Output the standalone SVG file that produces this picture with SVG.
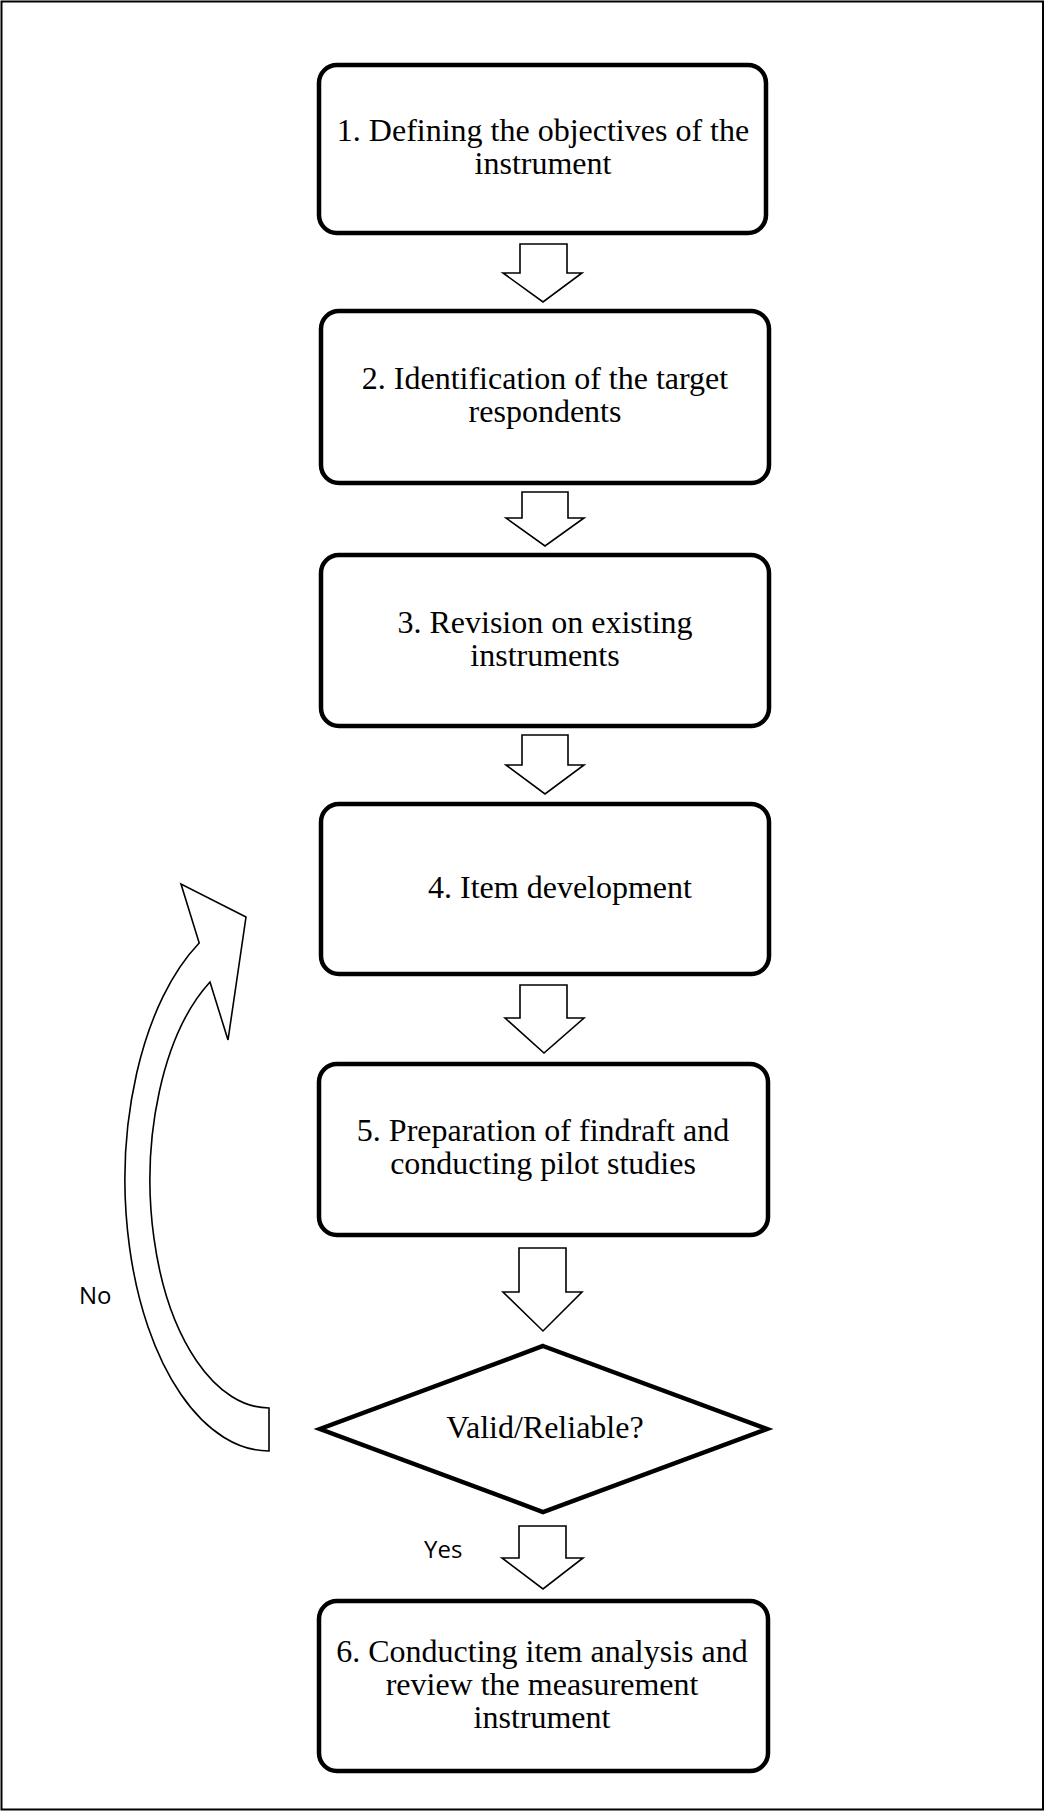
<svg xmlns="http://www.w3.org/2000/svg" width="1045" height="1812" viewBox="0 0 1045 1812">
<style>
.box{fill:#fff;stroke:#000;stroke-width:4.5}
.arr{fill:#fff;stroke:#000;stroke-width:1.6;stroke-linejoin:miter}
.t{font-family:"Liberation Serif","Times New Roman",serif;font-size:32px;fill:#000;text-anchor:middle}
.s{font-family:"Open Sans","Liberation Sans",sans-serif;font-size:24px;fill:#000}
</style>
<rect x="1.5" y="1.5" width="1041.5" height="1808" fill="#fff" stroke="#000" stroke-width="2"/>
<g id="connectors">
<path class="arr" d="M520,244 H567 V273 H582 L543,302 L503,273 H520 Z"/>
<path class="arr" d="M522,492 H568 V518 H584 L545,546 L506,518 H522 Z"/>
<path class="arr" d="M522,735 H568 V765 H584 L545,794 L506,765 H522 Z"/>
<path class="arr" d="M520,985 H567 V1018 H584 L544,1053 L505,1018 H520 Z"/>
<path class="arr" d="M519,1248 H566 V1292 H582 L543,1331 L503,1292 H519 Z"/>
<path class="arr" d="M519,1526 H566 V1558 H583 L543,1589 L502,1558 H519 Z"/>
<path class="arr" d="M269,1451 A144,271 0 0 1 199.2,943 L181,884 L246,917 L228,1040 L210,982 A119,228 0 0 0 269,1408 Z"/>
<text class="s" x="79" y="1304">No</text>
<text class="s" x="424" y="1558">Yes</text>
</g>
<g id="node1">
<rect class="box" x="319" y="65" width="447" height="168" rx="18"/>
<text class="t" x="543" y="141">1. Defining the objectives of the</text>
<text class="t" x="543" y="174">instrument</text>
</g>
<g id="node2">
<rect class="box" x="321" y="311" width="448" height="172" rx="18"/>
<text class="t" x="545" y="389">2. Identification of the target</text>
<text class="t" x="545" y="422">respondents</text>
</g>
<g id="node3">
<rect class="box" x="321" y="555" width="448" height="171" rx="18"/>
<text class="t" x="545" y="633">3. Revision on existing</text>
<text class="t" x="545" y="666">instruments</text>
</g>
<g id="node4">
<rect class="box" x="321" y="804" width="448" height="170" rx="18"/>
<text class="t" x="560" y="898">4. Item development</text>
</g>
<g id="node5">
<rect class="box" x="319" y="1064" width="449" height="171" rx="18"/>
<text class="t" x="543" y="1141">5. Preparation of findraft and</text>
<text class="t" x="543" y="1174">conducting pilot studies</text>
</g>
<g id="decision">
<polygon class="box" points="543,1346 767,1429 543,1512 320,1429"/>
<text class="t" x="545" y="1438">Valid/Reliable?</text>
</g>
<g id="node6">
<rect class="box" x="319" y="1601" width="449" height="170" rx="18"/>
<text class="t" x="542" y="1662">6. Conducting item analysis and</text>
<text class="t" x="542" y="1695">review the measurement</text>
<text class="t" x="542" y="1728">instrument</text>
</g>
</svg>
